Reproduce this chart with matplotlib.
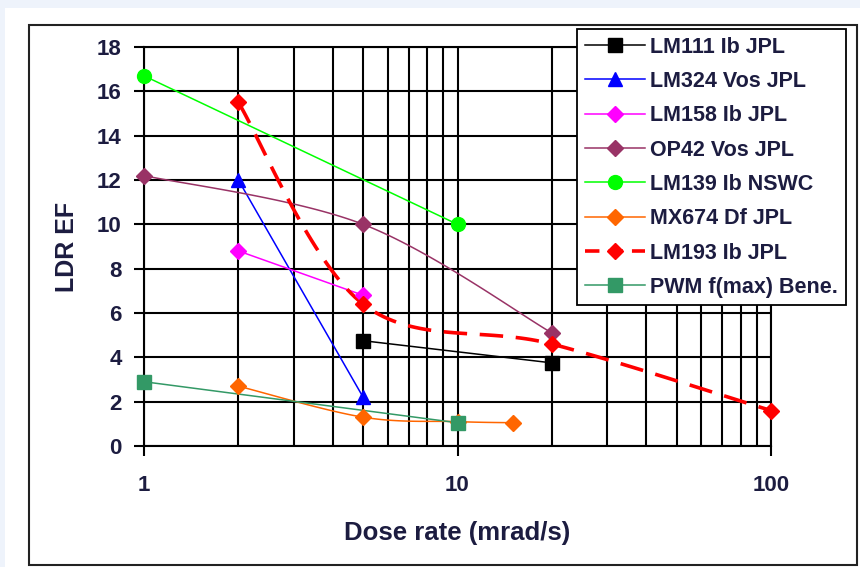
import numpy as np
import matplotlib
matplotlib.use('Agg')
import matplotlib.pyplot as plt
from matplotlib.patches import Rectangle
from matplotlib.ticker import LogLocator, NullFormatter, FixedLocator

plt.rcParams['font.family'] = ['Liberation Sans', 'DejaVu Sans']
plt.rcParams['font.weight'] = 'bold'

TXT = '#1c1c40'

# series: dose rate (mrad/s) and LDR enhancement factor
lm111_x = [5, 20]
lm111_y = [4.75, 3.75]
lm324_x = [2, 5]
lm324_y = [12.0, 2.2]
lm158_x = [2, 5]
lm158_y = [8.8, 6.8]
op42_x = [1, 5, 20]
op42_y = [12.2, 10.0, 5.1]
lm139_x = [1, 10]
lm139_y = [16.7, 10.0]
mx674_x = [2, 5, 10, 15]
mx674_y = [2.7, 1.3, 1.1, 1.05]
lm193_x = [2, 5, 20, 100]
lm193_y = [15.5, 6.4, 4.6, 1.6]
pwm_x = [1, 10]
pwm_y = [2.9, 1.05]

labels = ['LM111 Ib JPL', 'LM324 Vos JPL', 'LM158 Ib JPL', 'OP42 Vos JPL',
          'LM139 Ib NSWC', 'MX674 Df JPL', 'LM193 Ib JPL', 'PWM f(max) Bene.']


def smooth(xs, ys, n=40):
    # Excel-style smoothed line (Catmull-Rom bezier in log-x space)
    lx = np.log10(xs)
    py = np.array(ys, dtype=float)
    pts = np.column_stack([lx, py])
    if len(pts) < 3:
        return xs, ys
    out = []
    for i in range(len(pts) - 1):
        p0 = pts[i - 1] if i > 0 else pts[i]
        p1 = pts[i]
        p2 = pts[i + 1]
        p3 = pts[i + 2] if i + 2 < len(pts) else pts[i + 1]
        c1 = p1 + (p2 - p0) / 6.0
        c2 = p2 - (p3 - p1) / 6.0
        t = np.linspace(0, 1, n)[:, None]
        seg = ((1 - t) ** 3) * p1 + 3 * ((1 - t) ** 2) * t * c1 + 3 * (1 - t) * t ** 2 * c2 + t ** 3 * p2
        out.append(seg)
    c = np.vstack(out)
    return 10 ** c[:, 0], c[:, 1]


fig = plt.figure(figsize=(8.6, 5.67), dpi=100)
fig.patch.set_facecolor('#eef3fb')
fig.patches.append(Rectangle((5 / 860, 0), 1, 1 - 8 / 567, transform=fig.transFigure,
                             facecolor='white', edgecolor='none', zorder=-2))
fig.patches.append(Rectangle((29 / 860, 2 / 567), 828 / 860, 540 / 567, transform=fig.transFigure,
                             facecolor='none', edgecolor='#222222', lw=1.5, zorder=-1))

ax = fig.add_axes([144 / 860, 1 - 446 / 567, (771 - 144) / 860, (446 - 47) / 567])
ax.set_zorder(2)
ax.set_facecolor('white')

series = [
    (lm111_x, lm111_y, 'black', 's', '-'),
    (lm324_x, lm324_y, '#0000ff', '^', '-'),
    (lm158_x, lm158_y, '#ff00ff', 'D', '-'),
    (op42_x, op42_y, '#993366', 'D', '-'),
    (lm139_x, lm139_y, '#00ff00', 'o', '-'),
    (mx674_x, mx674_y, '#ff6600', 'D', '-'),
    (lm193_x, lm193_y, '#ff0000', 'D', '--'),
    (pwm_x, pwm_y, '#339966', 's', '-'),
]
msizes = {'s': 10, 'o': 10, '^': 10, 'D': 8.5}

handles = []
for (xs, ys, col, mk, ls), lab in zip(series, labels):
    sx, sy = smooth(xs, ys)
    lw = 2.6 if ls == '--' else 1.1
    ms = msizes[mk]
    ln, = ax.plot(sx, sy, color=col, lw=lw, ls=ls, zorder=3, clip_on=False)
    if ls == '--':
        ln.set_dashes((6.5, 3.5))
    ax.plot(xs, ys, color=col, lw=0, marker=mk, ms=ms, zorder=4, clip_on=False)
    h, = ax.plot([], [], color=col, lw=lw, ls=ls, marker=mk, ms=ms, label=lab)
    if ls == '--':
        h.set_dashes((4, 2.5))
    handles.append(h)

ax.set_xscale('log')
ax.set_xlim(1, 100)
ax.set_ylim(0, 18)
ax.set_yticks(np.arange(0, 19, 2))
ax.xaxis.set_major_locator(FixedLocator([1, 10, 100]))
ax.xaxis.set_minor_locator(LogLocator(base=10, subs=np.arange(2, 10)))
ax.xaxis.set_minor_formatter(NullFormatter())
ax.set_xticklabels(['1', '10', '100'])
ax.grid(True, which='both', color='black', lw=1.5)
ax.set_axisbelow(True)
for s in ax.spines.values():
    s.set_color('black')
    s.set_linewidth(1.5)
ax.tick_params(axis='both', which='major', length=7, width=1.5, colors='black',
               labelcolor=TXT, labelsize=16, pad=9)
ax.tick_params(axis='x', which='minor', length=0)
ax.tick_params(axis='x', which='major', pad=14)

ax.set_xlabel('Dose rate (mrad/s)', fontsize=18.5, fontweight='bold', color=TXT, labelpad=18)
ax.set_ylabel('LDR EF', fontsize=18, fontweight='bold', color=TXT, labelpad=13)

leg = fig.legend(handles=handles, loc='upper left', bbox_to_anchor=(577 / 860, 1 - 29 / 567),
                 fontsize=15.5, frameon=True, fancybox=False, handlelength=2.8,
                 labelspacing=0.62, borderpad=0.35, handletextpad=0.25, borderaxespad=0)
leg.set_zorder(10)
leg.get_frame().set_edgecolor('black')
leg.get_frame().set_linewidth(1.3)
leg.get_frame().set_alpha(1)
for t in leg.get_texts():
    t.set_color(TXT)
    t.set_fontweight('bold')

fig.savefig('out.png', dpi=100, facecolor=fig.get_facecolor())
